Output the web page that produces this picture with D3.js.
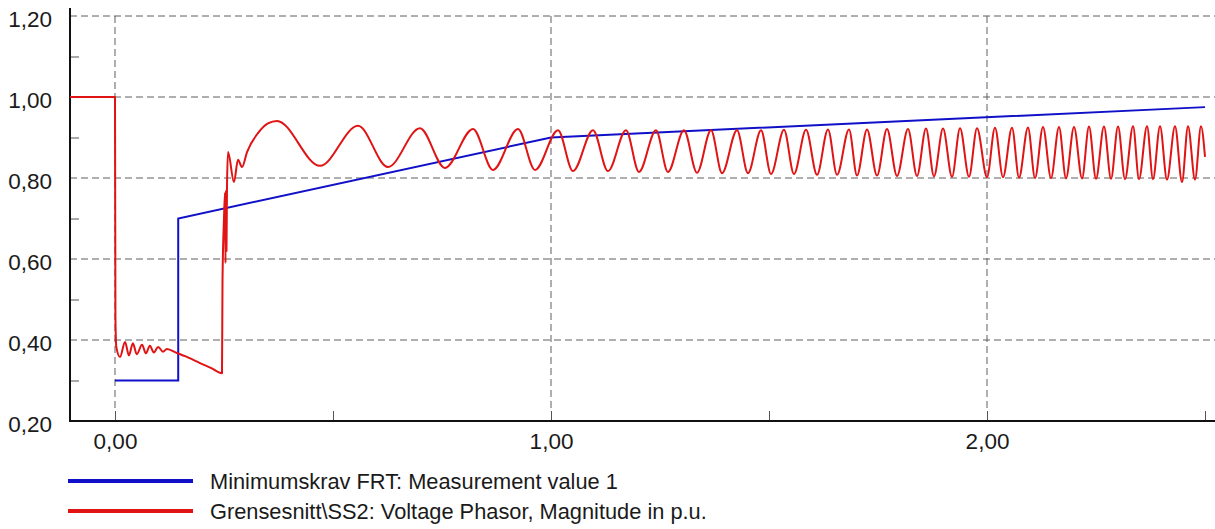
<!DOCTYPE html>
<html>
<head>
<meta charset="utf-8">
<script src="https://cdn.jsdelivr.net/npm/d3@7"></script>
<style>
  html, body { margin: 0; padding: 0; background: #fff; }
  svg { display: block; font-family: "Liberation Sans", Arial, sans-serif; }
</style>
</head>
<body>
<svg id="chart" width="1215" height="529"></svg>
<script>
// tick values
const yMajor = [0.2, 0.4, 0.6, 0.8, 1.0, 1.2];
const yMinor = [0.3, 0.5, 0.7, 0.9, 1.1];
const xMajor = [0, 1, 2];
const xMinor = [0.5, 1.5, 2.5];

// Minimumskrav FRT
const blueT = [0, 0.145, 0.145, 1.0, 2.5];
const blueV = [0.30, 0.30, 0.70, 0.90, 0.975];

// Grensesnitt\SS2 voltage
const redT = [-0.1032, 0, 0.001, 0.003, 0.0115, 0.023, 0.032, 0.041, 0.050, 0.062, 0.071, 0.080, 0.089, 0.099, 0.110, 0.119,
  0.142, 0.161, 0.195, 0.222, 0.2454, 0.2466, 0.250, 0.2523, 0.2534, 0.2546, 0.2557, 0.2569, 0.2592, 0.2729, 0.2821, 0.2913, 0.3028, 0.3280, 0.3509, 0.3716,
  0.4702, 0.5573, 0.6261, 0.6995, 0.7569, 0.8211, 0.8670, 0.9243, 0.9633, 1.0161, 1.0505, 1.0963, 1.1307, 1.1720, 1.2018, 1.2408, 1.2683, 1.3050, 1.3349,
  1.3670, 1.3922, 1.4266, 1.4518, 1.4817, 1.5046, 1.5344, 1.5573, 1.5849, 1.6101, 1.6353, 1.6560, 1.6835, 1.7018, 1.7248, 1.7477, 1.7706, 1.7936,
  1.8188, 1.8394, 1.8601, 1.8784, 1.8991, 1.9197, 1.9381, 1.9587, 1.9771, 2.0000, 2.0183, 2.0367, 2.0573, 2.0734, 2.0940, 2.1101, 2.1284, 2.1468,
  2.1651, 2.1812, 2.1995, 2.2179, 2.2339, 2.2500, 2.2683, 2.2844, 2.3005, 2.3165, 2.3349, 2.3486, 2.3670, 2.3807, 2.3968, 2.4128, 2.4312, 2.4472,
  2.4610, 2.4771, 2.4908, 2.5000];
const redV = [1.00, 1.00, 0.455, 0.383, 0.358, 0.395, 0.362, 0.392, 0.365, 0.388, 0.367, 0.386, 0.369, 0.383, 0.371, 0.378,
  0.368, 0.360, 0.343, 0.330, 0.318, 0.548, 0.700, 0.763, 0.590, 0.770, 0.620, 0.780, 0.864, 0.790, 0.845, 0.827, 0.864, 0.911, 0.935, 0.941,
  0.830, 0.929, 0.827, 0.923, 0.825, 0.921, 0.820, 0.921, 0.820, 0.918, 0.817, 0.918, 0.817, 0.918, 0.815, 0.918, 0.815, 0.918, 0.813,
  0.918, 0.812, 0.918, 0.812, 0.918, 0.810, 0.919, 0.810, 0.919, 0.808, 0.920, 0.808, 0.920, 0.806, 0.920, 0.806, 0.921, 0.805,
  0.921, 0.805, 0.922, 0.804, 0.922, 0.803, 0.923, 0.803, 0.923, 0.802, 0.924, 0.802, 0.924, 0.801, 0.925, 0.800, 0.926, 0.800,
  0.926, 0.799, 0.926, 0.799, 0.927, 0.798, 0.927, 0.798, 0.927, 0.797, 0.928, 0.797, 0.928, 0.797, 0.928, 0.796, 0.928, 0.790,
  0.928, 0.796, 0.928, 0.852];

const legendNames = ["Minimumskrav FRT: Measurement value 1", "Grensesnitt\\SS2: Voltage Phasor, Magnitude in p.u."];
const colors = ["#1010c8", "#e01414"];

const plotLeft = 70, plotRight = 1215, plotTop = 16, plotBottom = 421;
const x = d3.scaleLinear().domain([-0.1032, 2.5229]).range([plotLeft, plotRight]);
const y = d3.scaleLinear().domain([0.2, 1.2]).range([plotBottom, plotTop]);
const fmt = (d) => d.toFixed(2).replace(".", ",");

const svg = d3.select("#chart");

// dashed grid
svg.append("g")
    .selectAll("line")
    .data(yMajor.filter((d) => d > 0.2))
    .enter()
    .append("line")
    .attr("x1", plotLeft).attr("x2", plotRight)
    .attr("y1", (d) => y(d)).attr("y2", (d) => y(d))
    .attr("stroke", "#5e5e5e").attr("stroke-width", 1).attr("stroke-dasharray", "7,4");

svg.append("g")
    .selectAll("line")
    .data(xMajor)
    .enter()
    .append("line")
    .attr("x1", (d) => x(d)).attr("x2", (d) => x(d))
    .attr("y1", plotTop).attr("y2", plotBottom - 10)
    .attr("stroke", "#5e5e5e").attr("stroke-width", 1).attr("stroke-dasharray", "7,4");

// y axis: labels + minor ticks
const yAxis = svg.append("g")
    .attr("transform", `translate(${plotLeft},0)`)
    .call(d3.axisLeft(y).tickValues(yMajor).tickSize(0).tickPadding(18).tickFormat(fmt));
yAxis.select(".domain").remove();
yAxis.selectAll("text").attr("font-size", 22.5).attr("dy", "0.45em").attr("fill", "#1a1a1a")
    .attr("font-family", "Liberation Sans, Arial, sans-serif");

svg.append("g")
    .attr("transform", `translate(${plotLeft},0)`)
    .call(d3.axisRight(y).tickValues(yMinor).tickSize(9).tickFormat(""))
    .call((g) => g.select(".domain").remove())
    .selectAll("line").attr("stroke", "#555");

// x axis
const xAxis = svg.append("g")
    .attr("transform", `translate(0,${plotBottom})`)
    .call(d3.axisBottom(x).tickValues(xMajor).tickSize(0).tickPadding(12).tickFormat(fmt));
xAxis.select(".domain").remove();
xAxis.selectAll("text").attr("font-size", 22.5).attr("fill", "#1a1a1a")
    .attr("font-family", "Liberation Sans, Arial, sans-serif");

svg.append("g")
    .attr("transform", `translate(0,${plotBottom})`)
    .call(d3.axisTop(x).tickValues(xMajor.concat(xMinor)).tickSize(10).tickFormat(""))
    .call((g) => g.select(".domain").remove())
    .selectAll("line").attr("stroke", "#555");

// axis lines
svg.append("line").attr("x1", plotLeft).attr("x2", plotLeft).attr("y1", 8).attr("y2", plotBottom + 1)
    .attr("stroke", "#111").attr("stroke-width", 2);
svg.append("line").attr("x1", plotLeft).attr("x2", plotRight).attr("y1", plotBottom).attr("y2", plotBottom)
    .attr("stroke", "#111").attr("stroke-width", 2);

// series
const bluePts = blueT.map((t, i) => [t, blueV[i]]);
const redPts = redT.map((t, i) => [t, redV[i]]);

svg.append("path")
    .datum(bluePts)
    .attr("fill", "none")
    .attr("stroke", colors[0])
    .attr("stroke-width", 2)
    .attr("d", d3.line().x((d) => x(d[0])).y((d) => y(d[1])));

svg.append("path")
    .datum(redPts)
    .attr("fill", "none")
    .attr("stroke", colors[1])
    .attr("stroke-width", 2)
    .attr("stroke-linejoin", "round")
    .attr("d", d3.line().x((d) => x(d[0])).y((d) => y(d[1])).curve(d3.curveMonotoneX));

// legend
const legend = svg.append("g");
legendNames.forEach((name, i) => {
    const ly = 481 + i * 30;
    legend.append("line")
        .attr("x1", 68).attr("x2", 193).attr("y1", ly).attr("y2", ly)
        .attr("stroke", colors[i]).attr("stroke-width", 4);
    legend.append("text")
        .attr("x", 210).attr("y", ly + 7.5)
        .attr("font-size", 21.8)
        .attr("fill", "#1a1a1a")
        .text(name);
});
</script>
</body>
</html>
